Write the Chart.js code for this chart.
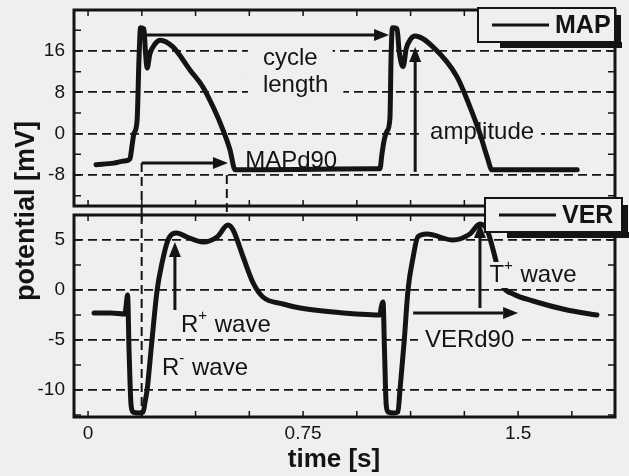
<!DOCTYPE html>
<html>
<head>
<meta charset="utf-8">
<script src="https://cdn.jsdelivr.net/npm/chart.js@4.4.0/dist/chart.umd.min.js"></script>
<style>
  html, body { margin: 0; padding: 0; background: #efefef; }
  #wrap { position: relative; width: 629px; height: 476px; }
  #wrap canvas { position: absolute; left: 0; top: 0; }
</style>
</head>
<body>
<div id="wrap">
  <canvas id="mapChart" width="629" height="476"></canvas>
  <canvas id="verChart" width="629" height="476"></canvas>
</div>
<script>
// monophasic action potential (top panel), time in s, potential in mV
const mapTime  = [0.028, 0.09, 0.125, 0.146, 0.153, 0.160, 0.171, 0.178, 0.183, 0.195, 0.200, 0.206, 0.216, 0.234, 0.251,
                  0.296, 0.356, 0.401, 0.436, 0.471, 0.495, 0.513, 0.60, 0.80, 1.00, 1.018, 1.025, 1.032, 1.043, 1.053,
                  1.057, 1.062, 1.078, 1.085, 1.099, 1.110, 1.125, 1.141, 1.203, 1.287, 1.332, 1.367, 1.392, 1.409, 1.55, 1.706]
const mapValue = [-6.0, -5.7, -5.3, -4.9, -2.5, 0.0, 2.5, 15.0, 20.5, 20.3, 16.0, 12.7, 15.5, 17.4, 18.1,
                  16.8, 12.3, 9.0, 5.2, 0.7, -3.1, -7.0, -7.0, -6.9, -6.8, -6.8, -4.0, -1.5, 0.5, 3.0,
                  15.0, 20.5, 20.3, 16.0, 13.0, 16.5, 18.3, 18.9, 16.8, 11.0, 5.2, 0.0, -4.5, -7.0, -7.0, -7.0]

// ventricular electrogram (bottom panel)
const verTime  = [0.021, 0.08, 0.129, 0.133, 0.138, 0.143, 0.150, 0.157, 0.175, 0.192, 0.200, 0.206, 0.223, 0.241, 0.258,
                  0.279, 0.310, 0.345, 0.401, 0.450, 0.488, 0.506, 0.541, 0.576, 0.610, 0.680, 0.740, 0.855, 1.018, 1.022,
                  1.029, 1.034, 1.040, 1.047, 1.065, 1.081, 1.088, 1.103, 1.116, 1.134, 1.150, 1.182, 1.272, 1.332, 1.367,
                  1.392, 1.413, 1.437, 1.449, 1.483, 1.552, 1.671, 1.775]
const verValue = [-2.3, -2.3, -2.4, -1.5, -0.5, -6.0, -11.5, -12.2, -12.3, -12.2, -11.0, -10.0, -5.0, 0.0, 2.7,
                  5.0, 5.7, 5.3, 4.8, 5.3, 6.5, 6.0, 3.3, 0.7, -0.7, -1.4, -1.8, -2.2, -2.5, -1.8,
                  -1.2, -6.0, -11.5, -12.2, -12.3, -12.2, -10.0, -5.0, 0.0, 3.3, 5.3, 5.6, 5.0, 5.6, 6.6,
                  6.0, 4.0, 1.3, 0.3, -0.4, -1.1, -2.0, -2.5]

const xTicks   = [0, 0.75, 1.5]
const mapTicks = [16, 8, 0, -8]
const verTicks = [5, 0, -5, -10]

// annotations, data units: [x1, y1, x2, y2], arrow head at (x2, y2)
const mapArrows = [[0.187, 19.1, 1.05, 19.1], [0.187, -5.7, 0.488, -5.7], [1.141, -7.4, 1.141, 16.8]]
const verArrows = [[0.303, -2.0, 0.303, 4.8], [1.367, -1.8, 1.367, 6.7], [1.134, -2.3, 1.50, -2.3]]
const mapNotes = [
  { text: 'cycle', x: 0.61, y: 14.6 },
  { text: 'length', x: 0.61, y: 9.4 },
  { text: 'MAPd90', x: 0.548, y: -5.3 },
  { text: 'amplitude', x: 1.193, y: 0.2 }
]
const verNotes = [
  { text: 'R', sup: '+', rest: ' wave', x: 0.324, y: -3.5 },
  { text: 'R', sup: '-', rest: ' wave', x: 0.258, y: -7.8 },
  { text: 'T', sup: '+', rest: ' wave', x: 1.40, y: 1.5 },
  { text: 'VERd90', x: 1.175, y: -5.0 }
]
const markerTime = [0.187, 0.484]

const INK = '#141414', PAPER = '#efefef'
const FONT = '"Liberation Sans", Arial, sans-serif'

function drawArrow(ctx, x1, y1, x2, y2) {
  const a = Math.atan2(y2 - y1, x2 - x1), c = Math.cos(a), s = Math.sin(a), head = 15, half = 6
  ctx.beginPath(); ctx.moveTo(x1, y1); ctx.lineTo(x2 - head * c, y2 - head * s); ctx.stroke()
  ctx.beginPath(); ctx.moveTo(x2, y2)
  ctx.lineTo(x2 - head * c + half * s, y2 - head * s - half * c)
  ctx.lineTo(x2 - head * c - half * s, y2 - head * s + half * c)
  ctx.closePath(); ctx.fill()
}

function drawNote(ctx, n, px, py, pad) {
  const big = '24px ' + FONT, small = '15px ' + FONT
  ctx.font = big; const w1 = ctx.measureText(n.text).width
  ctx.font = small; const w2 = n.sup ? ctx.measureText(n.sup).width + 1 : 0
  ctx.font = big; const w3 = n.rest ? ctx.measureText(n.rest).width : 0
  ctx.fillStyle = PAPER
  ctx.fillRect(px - pad, py - 13, w1 + w2 + w3 + 2 * pad, 26)
  ctx.fillStyle = INK; ctx.textBaseline = 'middle'; ctx.textAlign = 'left'
  ctx.fillText(n.text, px, py)
  if (n.sup) { ctx.font = small; ctx.fillText(n.sup, px + w1, py - 9) }
  if (n.rest) { ctx.font = big; ctx.fillText(n.rest, px + w1 + w2, py) }
}

function framePlugin(minorStep, arrows, notes, legend, lgTop, notesOnTop) {
  const isTop = legend === 'MAP'
  function annotate(chart) {
    const { ctx, scales: { x, y } } = chart
    ctx.save()
    notes.forEach(n => drawNote(ctx, n, x.getPixelForValue(n.x), y.getPixelForValue(n.y), n.text === 'cycle' || n.text === 'length' ? 15 : 7))
    ctx.strokeStyle = INK; ctx.lineWidth = 3; ctx.fillStyle = INK
    arrows.forEach(a => drawArrow(ctx, x.getPixelForValue(a[0]), y.getPixelForValue(a[1]), x.getPixelForValue(a[2]), y.getPixelForValue(a[3])))
    ctx.restore()
  }
  return {
    id: 'frame',
    beforeDatasetsDraw(chart) {
      const { ctx, chartArea: ca, scales: { x, y } } = chart
      ctx.save()
      // dashed markers
      ctx.strokeStyle = INK; ctx.lineWidth = 2; ctx.setLineDash([9, 5])
      markerTime.forEach((t, i) => {
        const px = x.getPixelForValue(t)
        ctx.beginPath()
        if (isTop) { ctx.moveTo(px, y.getPixelForValue(i === 0 ? -5.7 : -8)); ctx.lineTo(px, ca.bottom + 8) }
        else if (i === 0) { ctx.moveTo(px, ca.top); ctx.lineTo(px, ca.bottom) }
        ctx.stroke()
      })
      ctx.restore()
      if (!notesOnTop) annotate(chart)
    },
    afterDatasetsDraw(chart) {
      if (notesOnTop) annotate(chart)
    },
    afterDraw(chart) {
      const { ctx, chartArea: ca, scales: { x, y } } = chart
      ctx.save()
      ctx.strokeStyle = INK
      // inner ticks on all four sides
      ctx.lineWidth = 1.5
      for (let t = 0; t <= x.max; t += 0.1875) {
        const px = x.getPixelForValue(t)
        ctx.beginPath(); ctx.moveTo(px, ca.top); ctx.lineTo(px, ca.top + 6); ctx.moveTo(px, ca.bottom); ctx.lineTo(px, ca.bottom - 6); ctx.stroke()
      }
      for (let v = Math.ceil(y.min / minorStep) * minorStep; v <= y.max; v += minorStep) {
        const py = y.getPixelForValue(v)
        ctx.beginPath(); ctx.moveTo(ca.left, py); ctx.lineTo(ca.left + 7, py); ctx.moveTo(ca.right, py); ctx.lineTo(ca.right - 7, py); ctx.stroke()
      }
      ctx.lineWidth = 3
      ctx.strokeRect(ca.left, ca.top, ca.right - ca.left, ca.bottom - ca.top)
      // legend box with shadow
      const bx = ca.right - (isTop ? 137 : 130), by = lgTop, bw = 137, bh = 34
      ctx.fillStyle = INK
      ctx.fillRect(bx + 22, by + bh, bw - 15, 6)
      ctx.fillRect(bx + bw, by + 7, 6, bh - 1)
      ctx.fillStyle = PAPER; ctx.fillRect(bx, by, bw, bh)
      ctx.lineWidth = 2; ctx.strokeRect(bx, by, bw, bh)
      ctx.lineWidth = 3; ctx.beginPath(); ctx.moveTo(bx + 14, by + 17); ctx.lineTo(bx + 71, by + 17); ctx.stroke()
      ctx.fillStyle = INK; ctx.font = 'bold 25px ' + FONT; ctx.textBaseline = 'middle'; ctx.textAlign = 'left'
      ctx.fillText(legend, bx + 77, by + 18)
      if (isTop) {
        ctx.font = 'bold 27px ' + FONT
        ctx.save(); ctx.translate(27, 211); ctx.rotate(-Math.PI / 2); ctx.textAlign = 'center'
        ctx.fillText('potential [mV]', 0, 0); ctx.restore()
      } else {
        ctx.font = 'bold 26px ' + FONT
        ctx.textAlign = 'center'; ctx.fillText('time [s]', 334, 460)
      }
      ctx.restore()
    }
  }
}

function points(ts, vs) { return ts.map((t, i) => ({ x: t, y: vs[i] })) }

const tickFont = { family: FONT, size: 19 }

function yScale(min, max, ticks) {
  return {
    min, max,
    afterFit: s => { s.width = 74; s.paddingTop = 0; s.paddingBottom = 0 },
    afterBuildTicks: s => { s.ticks = ticks.map(v => ({ value: v })) },
    ticks: { color: INK, font: tickFont, padding: 9, callback: v => String(v) },
    grid: { color: INK, lineWidth: 1.8, drawTicks: false },
    border: { display: false, dash: [9, 5] }
  }
}

function makeChart(id, label, ts, vs, yMin, yMax, ticks, padding, showX, minorStep, arrows, notes, lgTop, notesOnTop) {
  return new Chart(document.getElementById(id), {
    type: 'line',
    data: { datasets: [{ label, data: points(ts, vs), borderColor: INK, borderWidth: 5, pointRadius: 0,
                         cubicInterpolationMode: 'monotone', borderJoinStyle: 'round', borderCapStyle: 'round' }] },
    options: {
      responsive: false, animation: false, devicePixelRatio: 1,
      layout: { padding },
      plugins: { legend: { display: false }, tooltip: { enabled: false } },
      scales: {
        x: {
          type: 'linear', min: -0.049, max: 1.838, display: showX,
          afterFit: s => { s.height = showX ? 59 : 0; s.paddingLeft = 0; s.paddingRight = 0 },
          afterBuildTicks: s => { s.ticks = xTicks.map(v => ({ value: v })) },
          ticks: { color: INK, font: tickFont, padding: 5, maxRotation: 0, callback: v => String(v) },
          grid: { display: false, drawTicks: false },
          border: { display: false }
        },
        y: yScale(yMin, yMax, ticks)
      }
    },
    plugins: [framePlugin(minorStep, arrows, notes, label, lgTop, notesOnTop)]
  })
}

makeChart('mapChart', 'MAP', mapTime, mapValue, -14.0, 23.94, mapTicks,
          { left: 0, top: 10, right: 14, bottom: 270 }, false, 4, mapArrows, mapNotes, 8, false)
makeChart('verChart', 'VER', verTime, verValue, -12.7, 7.5, verTicks,
          { left: 0, top: 215, right: 14, bottom: 0 }, true, 2.5, verArrows, verNotes, 198, true)
</script>
</body>
</html>
